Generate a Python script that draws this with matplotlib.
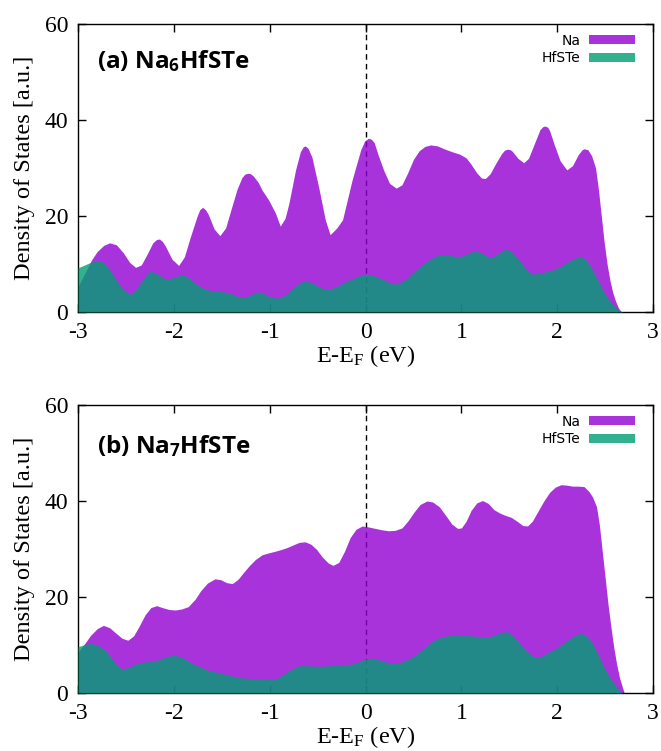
import numpy as np
import matplotlib.pyplot as plt

# panel (a) Na6HfSTe
e_na_a = [-3.00, -2.93, -2.86, -2.80, -2.73, -2.67, -2.60, -2.53, -2.46, -2.40,
          -2.34, -2.28, -2.22, -2.18, -2.15, -2.12, -2.09, -2.02, -1.95, -1.89, -1.83, -1.76,
          -1.73, -1.70, -1.67, -1.64, -1.58, -1.52, -1.46, -1.40, -1.34, -1.29, -1.26, -1.23, -1.20, -1.17,
          -1.12, -1.08, -1.01, -0.94, -0.89, -0.84, -0.80, -0.73, -0.68, -0.65, -0.63, -0.60,
          -0.56, -0.49, -0.42, -0.37, -0.30, -0.24, -0.14, -0.05, -0.01, 0.03, 0.06, 0.09,
          0.13, 0.19, 0.25, 0.32, 0.38, 0.44, 0.50, 0.56, 0.62, 0.68,
          0.75, 0.82, 0.90, 0.98, 1.05, 1.10, 1.16, 1.21, 1.25, 1.30,
          1.36, 1.42, 1.45, 1.48, 1.51, 1.53, 1.59, 1.65, 1.70, 1.76, 1.82, 1.85, 1.87,
          1.90, 1.92, 1.97, 2.03, 2.10, 2.16, 2.22, 2.26, 2.28, 2.32, 2.36, 2.40,
          2.43, 2.46, 2.49, 2.52, 2.55, 2.58, 2.61, 2.64, 2.67]
na_a = [5.3, 8.0, 10.8, 12.6, 13.9, 14.4, 14.0, 12.4, 10.3, 9.3,
        9.8, 12.0, 14.4, 15.1, 15.2, 14.7, 13.8, 11.0, 9.7, 11.5, 15.5, 19.8,
        21.3, 21.8, 21.3, 20.3, 17.3, 15.9, 17.5, 21.6, 25.6, 28.0, 28.7, 28.9, 28.8, 28.3,
        27.0, 25.4, 23.3, 20.6, 17.9, 19.5, 22.6, 29.6, 33.4, 34.4, 34.6, 34.1,
        32.3, 26.1, 19.2, 16.1, 17.5, 19.2, 27.5, 33.8, 35.6, 36.2, 36.0, 35.3,
        32.8, 29.5, 26.8, 25.8, 26.5, 29.0, 31.8, 33.6, 34.5, 34.8,
        34.6, 34.0, 33.4, 32.9, 32.1, 30.8, 29.0, 27.9, 27.8, 28.8,
        31.0, 33.0, 33.7, 33.9, 33.8, 33.5, 32.0, 31.1, 32.0, 35.0, 38.0, 38.6, 38.75,
        38.5, 37.8, 34.8, 31.5, 29.6, 30.5, 32.8, 33.8, 34.0, 33.8, 32.5, 30.0,
        25.5, 20.0, 14.5, 10.0, 6.6, 4.0, 2.2, 0.8, 0.0]

e_hf_a = [-3.00, -2.93, -2.86, -2.79, -2.73, -2.68, -2.63, -2.58, -2.52, -2.46,
          -2.40, -2.35, -2.29, -2.24, -2.18, -2.12, -2.06, -1.99, -1.91, -1.84,
          -1.78, -1.70, -1.62, -1.55, -1.48, -1.40, -1.33, -1.27, -1.21, -1.16,
          -1.115, -1.06, -1.00, -0.94, -0.88, -0.82, -0.76, -0.69, -0.63, -0.56,
          -0.49, -0.43, -0.38, -0.30, -0.22, -0.14, -0.07, 0.00, 0.05, 0.10,
          0.17, 0.24, 0.31, 0.38, 0.45, 0.52, 0.60, 0.68, 0.76, 0.82,
          0.90, 0.98, 1.05, 1.13, 1.20, 1.25, 1.30, 1.36, 1.42, 1.47,
          1.52, 1.57, 1.63, 1.69, 1.74, 1.80, 1.87, 1.95, 2.03, 2.10,
          2.17, 2.24, 2.29, 2.33, 2.38, 2.44, 2.49, 2.54, 2.60, 2.65, 2.68]
hf_a = [9.2, 9.8, 10.4, 10.8, 10.3, 9.1, 7.6, 6.0, 4.5, 3.7,
        4.5, 6.0, 7.6, 8.5, 8.0, 7.2, 6.8, 7.3, 7.8, 7.1,
        6.0, 5.0, 4.5, 4.3, 4.2, 3.8, 3.2, 3.0, 3.4, 4.0,
        4.2, 3.8, 3.2, 2.9, 3.0, 3.8, 5.0, 6.0, 6.5, 6.1,
        5.3, 4.8, 4.7, 5.3, 6.2, 6.9, 7.5, 7.9, 7.8, 7.5,
        6.9, 6.2, 5.8, 6.3, 7.3, 8.6, 10.0, 11.1, 11.8, 12.0,
        11.7, 11.5, 12.0, 12.7, 12.4, 11.8, 11.3, 11.8, 12.7, 13.1,
        12.6, 11.6, 10.1, 8.6, 7.9, 8.0, 8.3, 8.75, 9.4, 10.3,
        11.1, 11.5, 11.1, 10.1, 8.3, 6.0, 4.0, 2.5, 1.1, 0.3, 0.0]

# panel (b) Na7HfSTe
e_na_b = [-3.00, -2.93, -2.87, -2.80, -2.735, -2.67, -2.60, -2.54, -2.48, -2.42,
          -2.36, -2.30, -2.24, -2.18, -2.12, -2.05, -1.985, -1.92, -1.85, -1.78,
          -1.72, -1.65, -1.57, -1.51, -1.45, -1.39, -1.33, -1.27, -1.21, -1.15,
          -1.08, -1.01, -0.95, -0.88, -0.82, -0.75, -0.69, -0.63, -0.57, -0.51,
          -0.45, -0.39, -0.34, -0.28, -0.22, -0.16, -0.10, -0.035, 0.03, 0.10,
          0.17, 0.24, 0.31, 0.38, 0.44, 0.51, 0.57, 0.64, 0.70, 0.77,
          0.84, 0.90, 0.96, 1.00, 1.05, 1.10, 1.16, 1.22, 1.28, 1.34,
          1.40, 1.46, 1.52, 1.58, 1.64, 1.69, 1.74, 1.80, 1.86, 1.92,
          1.98, 2.04, 2.10, 2.16, 2.22, 2.28, 2.33, 2.37, 2.41, 2.44,
          2.47, 2.50, 2.53, 2.56, 2.59, 2.62, 2.65, 2.68, 2.70]
na_b = [8.5, 10.3, 12.0, 13.4, 14.1, 13.6, 12.4, 11.4, 11.0, 11.9,
        14.0, 16.3, 17.8, 18.2, 17.8, 17.4, 17.3, 17.5, 18.0, 19.5,
        21.3, 22.9, 23.8, 23.6, 23.0, 22.8, 23.7, 25.2, 26.6, 27.8,
        28.8, 29.2, 29.5, 29.9, 30.3, 30.9, 31.4, 31.5, 31.0, 29.9,
        28.3, 27.1, 26.6, 27.2, 29.5, 32.4, 34.1, 34.8, 34.6, 34.3,
        34.0, 33.8, 33.9, 34.4, 35.8, 37.8, 39.3, 40.0, 39.8, 38.8,
        36.9, 35.2, 34.3, 34.4, 35.8, 38.0, 39.6, 40.1, 39.5, 38.2,
        37.5, 37.0, 36.6, 35.8, 34.9, 34.8, 35.8, 37.9, 40.0, 41.8,
        42.9, 43.4, 43.3, 43.1, 43.1, 43.0, 42.0, 40.8, 38.8, 35.0,
        29.5, 24.0, 18.5, 13.8, 9.5, 6.0, 3.2, 1.2, 0.0]

e_hf_b = [-3.00, -2.93, -2.857, -2.79, -2.72, -2.66, -2.61, -2.57, -2.53, -2.45,
          -2.37, -2.29, -2.21, -2.14, -2.07, -2.00, -1.93, -1.87, -1.81, -1.72,
          -1.64, -1.55, -1.46, -1.38, -1.29, -1.20, -1.115, -1.04, -0.976, -0.92,
          -0.87, -0.81, -0.76, -0.71, -0.63, -0.54, -0.45, -0.36, -0.26, -0.17,
          -0.10, -0.03, 0.05, 0.12, 0.19, 0.25, 0.31, 0.38, 0.45, 0.52,
          0.59, 0.66, 0.73, 0.80, 0.87, 0.94, 1.03, 1.13, 1.20, 1.27,
          1.34, 1.41, 1.48, 1.54, 1.60, 1.64, 1.70, 1.75, 1.79, 1.85,
          1.92, 1.99, 2.06, 2.13, 2.19, 2.25, 2.31, 2.37, 2.42, 2.47,
          2.52, 2.58, 2.63, 2.68]
hf_b = [9.65, 10.1, 10.35, 9.9, 8.95, 7.5, 6.15, 5.4, 5.0, 5.5,
        6.3, 6.5, 6.6, 7.1, 7.6, 7.9, 7.5, 6.9, 6.15, 5.4,
        4.75, 4.3, 3.9, 3.5, 3.15, 3.05, 3.0, 2.9, 2.8, 3.1,
        3.7, 4.5, 5.1, 5.6, 5.7, 5.6, 5.6, 5.7, 5.8, 6.0,
        6.2, 6.9, 7.3, 7.1, 6.6, 6.2, 6.15, 6.5, 7.1, 7.9,
        9.0, 10.2, 11.2, 11.75, 11.95, 12.0, 11.95, 11.9, 11.7, 11.6,
        12.0, 12.6, 12.8, 11.8, 10.5, 9.65, 8.4, 7.6, 7.4, 7.8,
        8.6, 9.3, 10.3, 11.3, 12.1, 12.45, 11.8, 10.35, 8.3, 6.15,
        4.1, 2.3, 1.0, 0.0]

paineis = [
    ('(a) Na$_{\\mathbf{6}}$HfSTe', e_na_a, na_a, e_hf_a, hf_a, 0.869),
    ('(b) Na$_{\\mathbf{7}}$HfSTe', e_na_b, na_b, e_hf_b, hf_b, 0.854),
]

plt.rcParams['axes.unicode_minus'] = False
plt.rcParams['mathtext.fontset'] = 'custom'
plt.rcParams['mathtext.rm'] = 'Liberation Serif'
plt.rcParams['mathtext.it'] = 'Liberation Serif:italic'
plt.rcParams['mathtext.bf'] = 'Open Sans:bold'

fig = plt.figure(figsize=(6.61, 7.51), dpi=100)
posicoes = [[0.118, 0.5846, 0.870, 0.3835], [0.118, 0.0772, 0.870, 0.3835]]

for pos, (rotulo, e_na, na, e_hf, hf, y_rot) in zip(posicoes, paineis):
    ax = fig.add_axes(pos)
    ax.axvline(0, color='black', lw=1, ls=(0, (4, 3)), zorder=1)
    ax.fill_between(e_na, 0, na, color='#9400d3', alpha=0.8, lw=0, label='Na', zorder=2)
    ax.fill_between(e_hf, 0, hf, color='#009e73', alpha=0.8, lw=0, label='HfSTe', zorder=3)

    ax.set_xlim(-3, 3)
    ax.set_ylim(0, 60)
    ax.set_xticks(np.arange(-3, 4, 1))
    ax.set_yticks([0, 20, 40, 60])
    ax.tick_params(direction='in', length=6, width=1, top=True, right=True, labelsize=17)
    ax.tick_params(axis='x', pad=7)
    ax.tick_params(axis='y', pad=7)
    for lab in ax.get_xticklabels() + ax.get_yticklabels():
        lab.set_family('Liberation Serif')
    for sp in ax.spines.values():
        sp.set_linewidth(1)

    ax.set_xlabel('E-E$_{\\mathrm{F}}$ (eV)', family='Liberation Serif', fontsize=17.5, labelpad=0)
    ax.set_ylabel('Density of States [a.u.]', family='Liberation Serif', fontsize=17.5, labelpad=7)

    ax.text(0.033, y_rot, rotulo, transform=ax.transAxes, family='Open Sans',
            fontweight='bold', fontsize=17.5, va='center', ha='left')

    ax.legend(loc='upper right', bbox_to_anchor=(0.986, 1.0), frameon=False, markerfirst=False,
              prop={'family': 'DejaVu Sans', 'size': 10},
              handlelength=3.3, handleheight=0.65, handletextpad=0.65,
              labelspacing=0.25, borderaxespad=0.5, borderpad=0.2)

plt.savefig('out.png', dpi=100)
plt.close(fig)
